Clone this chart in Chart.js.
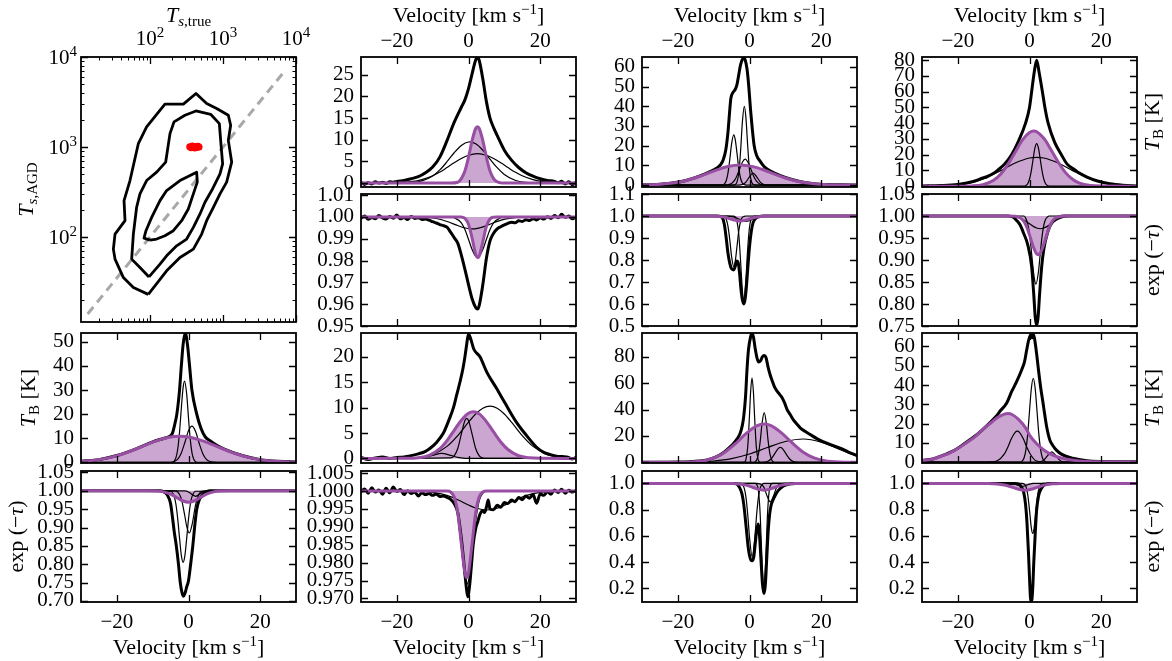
<!DOCTYPE html>
<html>
<head>
<meta charset="utf-8">
<script src="https://cdn.jsdelivr.net/npm/chart.js@4.4.1/dist/chart.umd.min.js"></script>
<style>
  html, body { margin: 0; padding: 0; background: #fff; width: 1172px; height: 661px; overflow: hidden; position: relative; }
  canvas { position: absolute; }
</style>
</head>
<body>
<script>
// ---- tick values ----
const velTicks = [-20, 0, 20];
const logTicks = [100, 1000, 10000];
const logExps = ['2', '3', '4'];
const c2r1Ticks = [0, 5, 10, 15, 20, 25];
const c2r2Ticks = [0.95, 0.96, 0.97, 0.98, 0.99, 1.00, 1.01];
const c3r1Ticks = [0, 10, 20, 30, 40, 50, 60];
const c3r2Ticks = [0.5, 0.6, 0.7, 0.8, 0.9, 1.0, 1.1];
const c4r1Ticks = [0, 10, 20, 30, 40, 50, 60, 70, 80];
const c4r2Ticks = [0.75, 0.80, 0.85, 0.90, 0.95, 1.00, 1.05];
const c1r3Ticks = [0, 10, 20, 30, 40, 50];
const c1r4Ticks = [0.70, 0.75, 0.80, 0.85, 0.90, 0.95, 1.00, 1.05];
const c2r3Ticks = [0, 5, 10, 15, 20];
const c2r4Ticks = [0.970, 0.975, 0.980, 0.985, 0.990, 0.995, 1.000, 1.005];
const c3r3Ticks = [0, 20, 40, 60, 80];
const c3r4Ticks = [0.2, 0.4, 0.6, 0.8, 1.0];
const c4r3Ticks = [0, 10, 20, 30, 40, 50, 60];
const c4r4Ticks = [0.2, 0.4, 0.6, 0.8, 1.0];

// ---- contour panel (Ts,true vs Ts,AGD) ----
const outerTrue = [94.8, 59.2, 43.2, 33.2, 31.5, 33.2, 45.5, 44.1, 53.2, 69.2, 89.9, 160.3, 286.4, 426.6, 597.0, 818.5, 1183, 1274, 1183, 1315, 1122, 909.9, 737.9, 597.0, 510.5, 392.6, 257.6, 169.0, 94.8];
const outerAgd  = [23.1, 27.5, 35.5, 56.9, 73.5, 107.9, 152.1, 254.1, 424.6, 1089, 1671, 2992, 2992, 3936, 3041, 2679, 2254, 1746, 1186, 680.8, 407.4, 302.0, 214.3, 152.1, 107.9, 73.5, 59.3, 42.2, 23.1];
const middleTrue = [96.9, 72.9, 56.1, 59.2, 65.6, 72.9, 89.9, 123.4, 164.1, 187.9, 213.3, 301.3, 426.6, 677.6, 891.3, 929.0, 988.5, 909.9, 699.8, 566.2, 484.2, 392.6, 317.7, 231.7, 169.0, 137.1, 96.9];
const middleAgd  = [36.1, 45.9, 56.9, 107.9, 214.3, 302, 424.6, 526.0, 680.8, 1408, 1901, 2254, 2518, 2312, 1820, 1186, 651.6, 504.7, 328.9, 243.8, 180.7, 128.2, 95.1, 80.0, 61.9, 50.0, 36.1];
const innerTrue = [100, 82.8, 88.1, 105.4, 137.1, 169.0, 257.6, 435.5, 444.6, 392.6, 335.0, 271.6, 208.9, 160.3, 123.4, 100];
const innerAgd  = [92.7, 97.5, 117.8, 165.6, 254.1, 328.9, 424.6, 526.0, 407.4, 302.0, 205.1, 152.1, 117.8, 103.5, 95.1, 92.7];
const redTrue = [350, 365, 380, 395, 410, 425, 440, 455, 470];
const redAgd  = [1010, 985, 1030, 1000, 975, 1015, 990, 1020, 1000];
const diagTrue = [14, 7100];
const diagAgd  = [14, 7100];

// ---- column 1 ----
const c1r3Thick = [[-30,0.4],[-25,1.1],[-20,2.8],[-15,5.4],[-10,8.5],[-7,9.9],[-5.5,10.6],[-4.5,12],[-3.8,16],[-3.25,20],[-2.5,30],[-2,40],[-1.5,49],[-0.9,53.7],[-0.3,49],[0.3,40],[0.95,30],[2.3,20],[3.5,14],[4.7,10.5],[6,9],[8,7],[10,5.5],[15,2.8],[20,1.1],[25,0.4],[30,0.15]];
const c1r3Thin1 = [[-30,0],[-4.5,0],[-4,0.5],[-3.5,1.9],[-3,5.5],[-2.5,12.6],[-2,22.5],[-1.5,31.1],[-1.1,33.7],[-0.5,28.2],[0,18.4],[0.5,9.4],[1,3.7],[1.5,1.15],[2,0.28],[2.5,0],[30,0]];
const c1r3Thin2 = [[-30,0],[-5,0],[-4,0.34],[-3,1.35],[-2,3.9],[-1,8.3],[0,13.05],[0.95,15],[2,12.7],[3,7.8],[4,3.57],[5,1.2],[6,0.29],[7,0.05],[8,0],[30,0]];
const c1r3Purple = [[-30,0.35],[-26,0.89],[-22,1.93],[-18,3.63],[-14,5.93],[-10,8.37],[-6,10.2],[-2.5,10.8],[1,10.2],[5,8.37],[9,5.93],[13,3.63],[17,1.93],[21,0.89],[25,0.35],[30,0.09]];

const c1r4Thick = [[-30,1],[-8,1],[-7,0.998],[-6,0.99],[-5,0.965],[-4.5,0.93],[-4,0.89],[-3.4,0.85],[-2.8,0.8],[-2.3,0.75],[-1.8,0.722],[-1.4,0.713],[-1,0.72],[-0.5,0.738],[0,0.755],[0.6,0.8],[1.2,0.85],[1.8,0.91],[2.3,0.95],[3,0.975],[4,0.99],[5.1,0.998],[6,1],[30,1]];
const c1r4Thin1 = [[-30,1],[-5,0.9988],[-4,0.985],[-3.5,0.9627],[-3,0.923],[-2.5,0.871],[-2,0.824],[-1.5,0.805],[-1,0.824],[-0.5,0.871],[0,0.923],[0.5,0.9627],[1,0.985],[2,0.9988],[30,1]];
const c1r4Thin2 = [[-30,1],[-4,1],[-3,0.9968],[-2,0.9786],[-1,0.93],[-0.5,0.903],[0.2,0.885],[1,0.908],[2,0.9626],[3,0.9924],[4,0.9992],[30,1]];
const c1r4Thin3 = [[-30,1],[-1,1],[0,0.997],[1,0.99],[2,0.985],[3,0.99],[4,0.997],[5,1],[30,1]];
const c1r4Purple = [[-30,1],[-12,1],[-9,0.9994],[-7,0.9972],[-5,0.9909],[-3,0.98],[-1.5,0.9722],[0,0.969],[1.5,0.9722],[3,0.98],[5,0.9909],[7,0.9972],[9,0.9994],[12,1],[30,1]];

// ---- column 2 ----
const c2r1Thick = [[-30,0.2],[-29,-0.3],[-28,0.1],[-27,-0.2],[-26,0.3],[-25,0],[-24,0.2],[-23,-0.1],[-22,0.3],[-21,0.2],[-20,0.4],[-18,0.6],[-16,1],[-14,1.5],[-12,2.4],[-10,3.7],[-8,6],[-6,9.8],[-4,14],[-2,17.5],[-1,19.2],[0,21.8],[1,25.2],[2,28.4],[2.5,29],[3,28.3],[4,24],[5,18.8],[6,15],[7,12.8],[8,11],[10,7.6],[12,5.3],[14,3.6],[16,2.4],[18,1.6],[20,1],[22,0.6],[24,0.4],[25,0.1],[26,0.4],[27,-0.2],[28,0.3],[29,-0.4],[30,0.2]];
const c2r1Thin1 = [[-30,0],[-16,0.12],[-13,0.51],[-10,1.65],[-8,3.04],[-6,4.93],[-4,7],[-2,8.7],[0,9.49],[0.3,9.5],[2,9.06],[4,7.58],[6,5.54],[8,3.56],[10,2],[13,0.66],[16,0.16],[20,0.02],[30,0]];
const c2r1Thin2 = [[-30,0.01],[-24,0.013],[-20,0.08],[-16,0.32],[-13,0.8],[-10,1.7],[-8,2.55],[-6,3.6],[-4,4.67],[-2,5.68],[0,6.43],[2.5,6.8],[5,6.43],[7,5.68],[9,4.67],[11,3.6],[13,2.55],[15,1.7],[18,0.8],[21,0.32],[25,0.08],[30,0.01]];
const c2r1Purple = [[-30,0],[-5,0],[-3,0.2],[-2,1.04],[-1,2.8],[0,5.95],[1,9.8],[2,12.6],[2.5,13],[3,12.6],[4,9.8],[5,5.95],[6,2.8],[7,1.04],[8,0.3],[9,0.05],[10,0],[30,0]];

const c2r2Thick = [[-30,0.9993],[-29,1.0004],[-28,0.9989],[-27,0.9997],[-26,0.9992],[-25,1.0007],[-24,0.9995],[-23,0.9990],[-22,1.0002],[-21,0.9994],[-20,1.0009],[-19,0.9991],[-18,0.9997],[-17,0.9988],[-16,1.0002],[-15,0.9993],[-14,0.9996],[-13,0.9988],[-12,0.9990],[-11,0.9985],[-10,0.9978],[-9,0.9972],[-8,0.9965],[-7,0.9960],[-6,0.9953],[-5,0.9930],[-4,0.9905],[-3,0.9880],[-2,0.9825],[-1,0.9760],[0,0.9690],[1,0.9625],[2,0.9585],[2.5,0.9578],[3,0.9595],[4,0.9690],[5,0.9810],[6,0.9890],[7,0.9925],[8,0.9945],[9,0.9955],[10,0.9963],[11,0.9970],[12,0.9976],[13,0.9973],[14,0.9982],[15,0.9979],[16,0.9987],[17,0.9983],[18,0.9992],[19,0.9986],[20,0.9996],[21,0.9990],[22,1.0001],[23,0.9993],[24,1.0006],[25,0.9996],[26,1.0012],[27,0.9998],[28,1.0004],[29,0.9991],[30,0.9999]];
const c2r2Thin1 = [[-30,1],[-13.5,0.99992],[-10.5,0.99961],[-7.5,0.9987],[-5.5,0.99764],[-3.5,0.99633],[-1.5,0.99515],[0.5,0.99453],[1,0.9945],[2.5,0.99474],[4.5,0.99569],[6.5,0.997],[8.5,0.99821],[10.5,0.9991],[13.5,0.99976],[16.5,0.99996],[30,1]];
const c2r2Thin2 = [[-30,1],[-5,1],[-4,0.99966],[-2,0.99727],[-1,0.99419],[0,0.98975],[1,0.98505],[2,0.98193],[2.5,0.9815],[3,0.98193],[4,0.98505],[5,0.98975],[6,0.99419],[7,0.99727],[9,0.99966],[10,1],[30,1]];
const c2r2Purple = [[-30,1],[-3,1],[-2,0.99992],[-1,0.99932],[0,0.99667],[1,0.99027],[2,0.98295],[2.6,0.9813],[3,0.98205],[4,0.98865],[5,0.9957],[6,0.99903],[7,0.99987],[8,1],[30,1]];

const c2r3Thick = [[-30,0.2],[-28,-0.2],[-26,0.1],[-24,0.3],[-22,0],[-20,0.2],[-18,0.3],[-16.3,0.5],[-14,0.9],[-12,1.4],[-10.7,2],[-9,3.1],[-7,5],[-5.5,7.5],[-4.2,10],[-3.3,12.5],[-2.4,15],[-1.6,17.5],[-1,20],[-0.5,22.5],[0,24.5],[0.5,23.8],[1.5,21.5],[3.2,20],[5.1,17],[7.9,13.7],[10.6,10.4],[13.4,7.1],[16.2,4.5],[19,2.2],[21,1.2],[22.7,0.8],[25,0.4],[27.4,0.3],[29,-0.1],[30,0.2]];
const c2r3Thin1 = [[-30,0],[-5,0.09],[-4,0.52],[-3,1.96],[-2,4.8],[-1,7.47],[-0.5,7.9],[0,7.47],[1,4.8],[2,1.96],[3,0.52],[4,0.09],[5,0],[30,0]];
const c2r3Thin2 = [[-30,0],[-18,0.02],[-14,0.17],[-10,0.76],[-6,2.37],[-3,4.5],[0,7.14],[2,8.75],[4,9.89],[6,10.3],[8,9.89],[10,8.75],[12,7.14],[15,4.5],[18,2.37],[22,0.76],[26,0.17],[30,0.03]];
const c2r3Thin3 = [[-30,0],[-16,0],[-14,0.03],[-12,0.2],[-10,0.6],[-7.5,1],[-5,0.6],[-3,0.2],[-1,0.03],[1,0],[30,0]];
const c2r3Purple = [[-30,0],[-18,0.02],[-14,0.14],[-11,0.61],[-8,1.94],[-6,3.52],[-4,5.53],[-2,7.53],[0,8.9],[1.35,9.2],[3,8.77],[5,7.26],[7,5.21],[9,3.25],[11,1.76],[14,0.53],[17,0.12],[20,0.02],[30,0]];

const c2r4Thick = [[-30,0.9998],[-29,1.0006],[-28,0.9994],[-27,1.0009],[-26,0.9997],[-25,1.0003],[-24,0.9991],[-23,1.0008],[-22,0.9995],[-21,1.0011],[-20,0.9999],[-19,1.0004],[-18,0.9990],[-17,1.0001],[-16,0.9993],[-15,0.9997],[-14,0.9986],[-13,0.9995],[-12,0.9990],[-11,0.9993],[-10,0.9988],[-9,0.9992],[-8,0.9985],[-7,0.9986],[-6,0.9982],[-5,0.9977],[-4,0.9965],[-3,0.9940],[-2.4,0.990],[-1.8,0.985],[-1.2,0.979],[-0.6,0.973],[-0.2,0.9705],[0.3,0.9735],[0.8,0.979],[1.3,0.985],[2,0.9895],[2.6,0.9915],[3.2,0.9935],[4,0.9945],[4.5,0.9940],[5,0.9955],[5.5,0.9975],[6,0.9950],[7,0.9948],[8,0.9960],[9,0.9955],[10,0.9968],[11,0.9965],[12,0.9975],[13,0.9970],[14,0.9982],[15,0.9976],[16,0.9986],[17,0.9980],[18,0.9990],[19,0.9966],[20,0.9992],[21,0.9988],[22,0.9998],[23,0.9991],[24,1.0003],[25,0.9996],[26,1.0005],[27,0.9994],[28,1.0002],[29,0.9997],[30,1.0001]];
const c2r4Thin1 = [[-30,1],[-14,0.99993],[-10,0.99964],[-6,0.99877],[-3,0.99756],[0,0.9961],[2,0.99527],[5.1,0.9947],[8,0.9952],[11,0.99649],[14,0.99792],[17,0.99901],[20,0.99962],[24,0.99992],[28,1],[30,1]];
const c2r4Thin2 = [[-30,1],[-6,1],[-5,0.9996],[-4,0.9979],[-3,0.99306],[-2,0.98422],[-1,0.97577],[-0.4,0.974],[0,0.97481],[1,0.98227],[2,0.99155],[3,0.9973],[4,0.9994],[5,1],[30,1]];
const c2r4Purple = [[-30,1],[-6,1],[-5,0.99973],[-4,0.9984],[-3,0.99395],[-2,0.98531],[-1,0.97711],[-0.5,0.9758],[0,0.97711],[1,0.98531],[2,0.99395],[3,0.9984],[4,0.99973],[5,1],[30,1]];

// ---- column 3 ----
const c3r1Thick = [[-30,0.08],[-26,0.3],[-22,0.9],[-18,2.2],[-14,4.5],[-11,6.8],[-9,8.8],[-8,10.5],[-7.3,13],[-6.6,18],[-6,27],[-5.6,36],[-5.2,44],[-4.6,47],[-4,48.5],[-3.5,51],[-3,56],[-2.5,61],[-2,63.8],[-1.6,64.5],[-1.2,63.5],[-0.7,59],[-0.2,50],[0.3,38],[0.7,30],[1.3,20],[2,15],[3,12],[4,9.5],[5,8],[7,6],[10,3.8],[14,1.8],[18,0.7],[22,0.25],[26,0.08],[30,0.02]];
const c3r1Thin1 = [[-30,0],[-4.5,0],[-4,0.25],[-3.5,1.5],[-3,6.1],[-2.5,16.9],[-2,31.6],[-1.45,40],[-1,34.2],[-0.5,19.8],[0,7.7],[0.5,2.05],[1,0.37],[1.5,0.04],[2,0],[30,0]];
const c3r1Thin2 = [[-30,0],[-7.5,0],[-7,0.6],[-6.5,2.2],[-6,6.2],[-5.5,13],[-5,20.9],[-4.4,25.5],[-4,23.3],[-3.5,16.3],[-3,8.6],[-2.5,3.45],[-2,1.05],[-1.5,0.24],[-1,0],[30,0]];
const c3r1Thin3 = [[-30,0],[-7,0],[-6,0.15],[-5,0.79],[-4,2.85],[-3,7],[-2,11.6],[-1.2,13.2],[0,9.97],[1,5.1],[2,1.8],[3,0.42],[4,0.07],[5,0],[30,0]];
const c3r1Thin4 = [[-30,0],[-3,0],[-2,0.26],[-1,1.5],[0,4.2],[1,6],[2,4.2],[3,1.5],[4,0.26],[5,0.02],[6,0],[30,0]];
const c3r1Purple = [[-30,0.07],[-26,0.27],[-22,0.85],[-18,2.13],[-14,4.32],[-10,7.1],[-6,9.45],[-2.6,10.2],[1,9.36],[4,7.65],[7,5.55],[10,3.57],[14,1.65],[18,0.62],[22,0.19],[26,0.05],[30,0.01]];

const c3r2Thick = [[-30,1],[-9,1],[-8,0.997],[-7.5,0.99],[-7,0.96],[-6.5,0.9],[-6,0.83],[-5.5,0.785],[-5,0.76],[-4.4,0.755],[-4,0.77],[-3.6,0.795],[-3.2,0.79],[-2.8,0.745],[-2.4,0.67],[-2,0.62],[-1.6,0.6],[-1.2,0.625],[-0.8,0.69],[-0.4,0.78],[0,0.86],[0.5,0.93],[1,0.97],[1.5,0.985],[2.5,0.996],[4,1],[30,1]];
const c3r2Thin1 = [[-30,1],[-4.5,1],[-4,0.9958],[-3.5,0.977],[-3,0.918],[-2.5,0.798],[-2,0.665],[-1.6,0.62],[-1,0.713],[-0.5,0.852],[0,0.949],[0.5,0.988],[1,0.998],[1.5,1],[30,1]];
const c3r2Thin2 = [[-30,1],[-7.5,1],[-7,0.9965],[-6.5,0.985],[-6,0.953],[-5.5,0.891],[-5,0.816],[-4.4,0.77],[-4,0.792],[-3.5,0.86],[-3,0.931],[-2.5,0.975],[-2,0.9935],[-1.5,0.9985],[-1,1],[30,1]];
const c3r2Thin3 = [[-30,1],[-7,1],[-6,0.9995],[-4,0.994],[-2,0.9786],[-1,0.975],[0,0.9786],[2,0.994],[4,0.9995],[5,1],[30,1]];
const c3r2Purple = [[-30,1],[-11,1],[-9,0.9991],[-7,0.9951],[-5,0.9855],[-3,0.9773],[-2.6,0.977],[-1,0.9813],[1,0.9918],[3,0.9981],[5,0.9998],[7,1],[30,1]];

const c3r3Thick = [[-30,0],[-20,0.2],[-16.5,0.5],[-14,1],[-11.9,1.8],[-9.5,3.9],[-7.2,7.5],[-5.5,11.5],[-4.4,14.5],[-3.4,18],[-2.6,22],[-2,28],[-1.6,35],[-1.1,50],[-0.7,70],[-0.3,85],[0.3,95],[0.7,97.5],[1.1,95],[1.6,86],[2.1,79],[2.55,76],[3.1,77],[3.6,80],[4.1,81],[4.6,79.5],[5.2,72],[5.8,66],[6.3,62],[7,57],[7.7,54],[8.4,51.5],[9.1,49],[9.8,45],[10.5,40],[11.4,36],[12.3,32],[13.2,29],[14.2,26],[15.5,23.5],[17,21],[18.9,17.8],[20.7,15.5],[23,13],[25.3,10.8],[27.6,7.8],[30,5.2]];
const c3r3Thin1 = [[-30,0],[-2,0],[-1.5,0.2],[-1,2.1],[-0.5,11.6],[0,35.8],[0.3,52.9],[0.7,64],[1.1,52.9],[1.4,35.8],[1.9,11.6],[2.4,2.1],[2.9,0.2],[3.4,0],[30,0]];
const c3r3Thin2 = [[-30,0],[1,0],[1.5,0.35],[2,1.78],[2.5,6.4],[3,16.3],[3.5,29.4],[4.1,37.7],[4.7,29.4],[5.2,16.3],[5.7,6.4],[6.2,1.78],[6.7,0.35],[7.2,0],[30,0]];
const c3r3Thin3 = [[-30,0],[3,0],[4,0.1],[5,0.63],[6,2.52],[7,6.4],[8,10.4],[8.6,11.3],[9.2,10.4],[10.2,6.4],[11.2,2.52],[12.2,0.63],[13.2,0.1],[14,0],[30,0]];
const c3r3Thin4 = [[-30,0],[-22,0.05],[-15,0.3],[-10,1],[-5,2.8],[0,6.3],[5,11.2],[10,15.8],[15,17.7],[20,15.3],[25,10],[30,4.6]];
const c3r3Purple = [[-30,0],[-20,0.05],[-16,0.32],[-12,1.61],[-8,5.7],[-4,13.97],[-1,21.7],[2,27.6],[4.1,29],[6,27.85],[9,22.2],[12,14.5],[15,7.7],[18,3.37],[21,1.2],[25,0.22],[30,0.02]];

const c3r4Thick = [[-30,1],[-4,1],[-3.5,0.995],[-2.8,0.97],[-2.1,0.92],[-1.6,0.84],[-1.2,0.74],[-0.8,0.63],[-0.4,0.52],[0,0.45],[0.4,0.415],[0.8,0.41],[1.2,0.44],[1.6,0.54],[2,0.64],[2.4,0.69],[2.8,0.6],[3.2,0.42],[3.6,0.24],[4,0.16],[4.4,0.22],[4.8,0.42],[5.2,0.63],[5.6,0.76],[6,0.83],[6.5,0.87],[7.2,0.91],[8,0.945],[9.5,0.98],[11.4,0.997],[13,1],[30,1]];
const c3r4Thin1 = [[-30,1],[-2.5,1],[-2,0.9916],[-1.5,0.966],[-1,0.898],[-0.5,0.765],[0,0.59],[0.75,0.44],[1.5,0.59],[2,0.765],[2.5,0.898],[3,0.966],[3.5,0.9916],[4,1],[30,1]];
const c3r4Thin2 = [[-30,1],[1.5,1],[2,0.993],[2.5,0.943],[3,0.752],[3.5,0.397],[4,0.19],[4.5,0.397],[5,0.752],[5.5,0.943],[6,0.993],[6.5,1],[30,1]];
const c3r4Thin3 = [[-30,1],[2,1],[3,0.997],[4,0.972],[5,0.898],[5.8,0.86],[6.6,0.898],[7.6,0.972],[8.6,0.997],[9.5,1],[30,1]];
const c3r4Purple = [[-30,1],[-7,1],[-5,0.9994],[-3,0.9966],[-1,0.9873],[1,0.969],[2.5,0.955],[4,0.949],[5.5,0.955],[7,0.969],[9,0.9873],[11,0.9966],[13,0.9994],[15,1],[30,1]];

// ---- column 4 ----
const c4r1Thick = [[-30,0.15],[-25,0.4],[-20,1.1],[-16,2.8],[-13,5.2],[-11.9,6],[-10,8.2],[-8.7,10.5],[-7,14],[-5,20],[-3,29],[-1.1,40],[0,50],[0.6,60],[1.3,72],[2,80],[2.7,72],[3.6,60],[4.3,50],[5.2,40],[7,28],[8.9,20],[10.5,14],[12.6,10.5],[14,8.2],[15.9,6],[19,3.3],[22.4,1.5],[26,0.6],[30,0.2]];
const c4r1Thin1 = [[-30,0],[-1.5,0],[-1,0.45],[-0.5,1.57],[0,4.4],[0.5,9.7],[1,17.1],[1.5,24.1],[2,27],[2.5,24.1],[3,17.1],[3.5,9.7],[4,4.4],[4.5,1.57],[5,0.45],[5.5,0.1],[6,0],[30,0]];
const c4r1Thin2 = [[-30,0.03],[-25,0.2],[-20,0.92],[-16,2.48],[-12,5.46],[-8,9.87],[-4,14.7],[0,17.9],[2,18.3],[4,17.9],[8,14.7],[12,9.87],[16,5.46],[20,2.48],[24,0.92],[29,0.2],[30,0.14]];
const c4r1Purple = [[-30,0],[-20,0.01],[-16,0.18],[-13,0.97],[-10,3.76],[-8,7.77],[-6,13.9],[-4,21.6],[-2,29.2],[0,34.1],[1.2,35],[2,34.6],[4,30.4],[6,23.2],[8,15.4],[10,8.8],[12,4.4],[14,1.9],[17,0.41],[20,0.07],[30,0]];

const c4r2Thick = [[-30,1],[-6,1],[-4.5,0.997],[-3.6,0.99],[-2.5,0.978],[-1.7,0.962],[-0.5,0.935],[0.6,0.885],[1.2,0.82],[1.6,0.77],[2,0.752],[2.4,0.77],[2.8,0.82],[3.4,0.885],[4,0.925],[4.8,0.955],[5.6,0.975],[6.6,0.988],[8,0.997],[10,1],[30,1]];
const c4r2Thin1 = [[-30,1],[-1.5,1],[-1,0.994],[-0.5,0.9827],[0,0.9594],[0.5,0.9228],[1,0.881],[1.5,0.8506],[1.8,0.845],[2.5,0.8734],[3,0.9145],[3.5,0.953],[4,0.979],[4.5,0.9924],[5,0.9978],[5.5,1],[30,1]];
const c4r2Thin2 = [[-30,1],[-8,1],[-6,0.9997],[-4,0.9981],[-2,0.9928],[0,0.9824],[2,0.9726],[3,0.971],[4,0.9726],[6,0.9824],[8,0.9928],[10,0.9981],[12,0.9997],[14,1],[30,1]];
const c4r2Purple = [[-30,1],[-6,1],[-4,0.9995],[-2,0.9922],[-1,0.9792],[0,0.9571],[1,0.9311],[2,0.9138],[2.4,0.912],[3,0.9159],[4,0.9361],[5,0.9622],[6,0.9826],[7,0.9938],[9,0.9996],[11,1],[30,1]];

const c4r3Thick = [[-30,0.9],[-27,1.6],[-24,3.6],[-22,5.1],[-20,7.2],[-18,9.8],[-15,13.8],[-13,17],[-11,20.5],[-9,24.5],[-8.2,26.5],[-6.4,30.5],[-5,36.5],[-3.6,41.7],[-2.2,47.8],[-1.4,52],[-0.8,58],[-0.2,63.5],[0.3,66],[0.7,64.5],[1.1,66.3],[1.5,63],[2,56],[2.4,49.5],[3.1,39],[3.8,30.4],[4.3,24],[4.8,18.2],[5.7,11.3],[6.5,8.6],[7.5,6.2],[9,4],[12,2],[16,0.7],[20,0.3],[30,0.1]];
const c4r3Thin1 = [[-30,0],[-2.5,0],[-2,0.63],[-1.5,2.25],[-1,6.4],[-0.5,14.6],[0,26.4],[0.5,37.9],[1.05,43.5],[1.6,37.9],[2.1,26.4],[2.6,14.6],[3.1,6.4],[3.6,2.25],[4.1,0.63],[4.6,0.14],[5,0],[30,0]];
const c4r3Thin2 = [[-30,0],[-12,0],[-11,0.04],[-9,0.63],[-7,4.2],[-6,7.96],[-5,12.3],[-4,15.4],[-3.4,16],[-2.8,15.4],[-1.8,12.3],[-0.8,7.96],[0.2,4.2],[1.8,0.63],[3.8,0.04],[5,0],[30,0]];
const c4r3Thin3 = [[-30,0],[2,0],[3,0.15],[4,0.99],[5,3.2],[6.2,5.3],[7.4,3.2],[8.4,0.99],[9.4,0.15],[10.5,0],[30,0]];
const c4r3Purple = [[-30,0.8],[-27,1.5],[-24,3.5],[-22.6,4.4],[-20,7],[-17.9,9.6],[-15,13.5],[-13.3,16.5],[-11,20],[-9,23],[-7,24.9],[-6,25.2],[-5,24.8],[-3,22],[-1,17.5],[0,14],[2,9.5],[4.6,5.5],[7,3.2],[10,1.6],[14,0.6],[20,0.15],[30,0]];

const c4r4Thick = [[-30,1],[-4,1],[-3,0.995],[-2.2,0.97],[-1.6,0.93],[-1.1,0.84],[-0.7,0.7],[-0.3,0.48],[0,0.28],[0.3,0.12],[0.6,0.1],[0.9,0.2],[1.2,0.4],[1.6,0.62],[2,0.8],[2.5,0.9],[3,0.945],[3.8,0.98],[4.8,0.997],[6,1],[30,1]];
const c4r4Thin1 = [[-30,1],[-2,1],[-1.5,0.9958],[-1,0.977],[-0.5,0.917],[0,0.797],[0.5,0.663],[0.9,0.618],[1.3,0.663],[1.8,0.797],[2.3,0.917],[2.8,0.977],[3.3,0.9958],[3.8,1],[30,1]];
const c4r4Thin2 = [[-30,1],[-6,1],[-4,0.995],[-3,0.985],[-2,0.978],[-1,0.985],[0,0.995],[1,1],[30,1]];
const c4r4Purple = [[-30,1],[-14,1],[-12,0.9997],[-9,0.9966],[-7,0.9885],[-5,0.9728],[-3,0.9553],[-1.3,0.949],[0.5,0.956],[2.5,0.9737],[4.5,0.9891],[6.5,0.9969],[9,0.9996],[11,1],[30,1]];

// ---- layout ----
const FONT = 'Liberation Serif';
const L = 80, R = 45, T = 70, B = 70, PW = 215;
const COLX = [81, 361, 642, 922];
const ROWY = [[57, 187], [194, 326], [333, 463], [471, 602]];
const PURPLE = '#984ea3';
const PFILL = 'rgba(152, 78, 163, 0.5)';
const TICKSZ = 21;

Chart.defaults.font.family = FONT;
Chart.defaults.color = '#000';

const SZ = 22, SUB = 15;
const VEL = [['Velocity [km s', SZ, 0, 0], ['\u22121', SUB, 0, -8], [']', SZ, 0, 0]];
const TB = [['T', SZ, 1, 0], ['B', SUB, 0, 4], [' [K]', SZ, 0, 0]];
const TAU = [['exp (', SZ, 0, 0], ['\u2212', SZ, 0, 0], ['\u03c4', SZ, 1, 0], [')', SZ, 0, 0]];
const TAGD = [['T', SZ, 1, 0], ['s', SUB, 1, 4], [',AGD', SUB, 0, 4]];
const TTRUE = [['T', SZ, 1, 0], ['s', SUB, 1, 4], [',true', SUB, 0, 4]];

function xy(arr) {
  return arr.map(p => ({ x: p[0], y: p[1] }));
}

function drawRich(ctx, parts, x, y, vertical) {
  ctx.save();
  ctx.translate(x, y);
  if (vertical) ctx.rotate(-Math.PI / 2);
  const fonts = parts.map(p => (p[2] ? 'italic ' : '') + p[1] + 'px "' + FONT + '"');
  let w = 0;
  parts.forEach((p, i) => { ctx.font = fonts[i]; w += ctx.measureText(p[0]).width; });
  let cx = -w / 2;
  ctx.fillStyle = '#000';
  ctx.textAlign = 'left';
  ctx.textBaseline = 'alphabetic';
  parts.forEach((p, i) => {
    ctx.font = fonts[i];
    ctx.fillText(p[0], cx, p[3]);
    cx += ctx.measureText(p[0]).width;
  });
  ctx.restore();
}

function drawPow(ctx, exp, x, y, align) {
  ctx.save();
  ctx.fillStyle = '#000';
  ctx.textBaseline = 'alphabetic';
  ctx.textAlign = 'left';
  ctx.font = TICKSZ + 'px "' + FONT + '"';
  const w1 = ctx.measureText('10').width;
  ctx.font = '15px "' + FONT + '"';
  const w2 = ctx.measureText(exp).width;
  const x0 = align === 'center' ? x - (w1 + w2) / 2 : x - (w1 + w2);
  ctx.font = TICKSZ + 'px "' + FONT + '"';
  ctx.fillText('10', x0, y);
  ctx.font = '15px "' + FONT + '"';
  ctx.fillText(exp, x0 + w1, y - 8);
  ctx.restore();
}

// frame, inward ticks on all four sides, axis titles
const decoPlugin = {
  id: 'deco',
  afterDraw(chart, args, o) {
    const ctx = chart.ctx, a = chart.chartArea;
    const sx = chart.scales.x, sy = chart.scales.y;
    const marks = (len, xs, ys) => {
      xs.forEach(v => {
        const px = Math.round(sx.getPixelForValue(v)) + 0.5;
        ctx.moveTo(px, a.top); ctx.lineTo(px, a.top + len);
        ctx.moveTo(px, a.bottom); ctx.lineTo(px, a.bottom - len);
      });
      ys.forEach(v => {
        const py = Math.round(sy.getPixelForValue(v)) + 0.5;
        ctx.moveTo(a.left, py); ctx.lineTo(a.left + len, py);
        ctx.moveTo(a.right, py); ctx.lineTo(a.right - len, py);
      });
    };
    ctx.save();
    ctx.strokeStyle = '#000';
    ctx.lineWidth = 1.3;
    ctx.beginPath();
    marks(7, sx.ticks.map(t => t.value), sy.ticks.map(t => t.value));
    ctx.stroke();
    if (o.log) {
      const minor = [];
      [10, 100, 1000].forEach(d => { for (let k = 2; k <= 9; k++) minor.push(k * d); });
      ctx.lineWidth = 1;
      ctx.beginPath();
      marks(3.5, minor.filter(v => v > sx.min && v < sx.max), minor.filter(v => v > sy.min && v < sy.max));
      ctx.stroke();
      logTicks.forEach((v, i) => {
        drawPow(ctx, logExps[i], sx.getPixelForValue(v), a.top - 12, 'center');
        drawPow(ctx, logExps[i], a.left - 4, sy.getPixelForValue(v) + 7, 'right');
      });
    }
    ctx.lineWidth = 1.8;
    ctx.strokeRect(a.left, a.top, a.right - a.left, a.bottom - a.top);
    ctx.restore();
    const midX = (a.left + a.right) / 2, midY = (a.top + a.bottom) / 2;
    (o.titles || []).forEach(t => {
      if (t.side === 'top') drawRich(ctx, t.parts, midX, a.top - 35, false);
      if (t.side === 'bottom') drawRich(ctx, t.parts, midX, a.bottom + 52, false);
      if (t.side === 'left') drawRich(ctx, t.parts, a.left - (t.off || 46), midY, true);
      if (t.side === 'right') drawRich(ctx, t.parts, a.right + 22, midY, true);
    });
  }
};

function mkCanvas(x, y, w, h) {
  const c = document.createElement('canvas');
  c.width = w; c.height = h;
  c.style.left = x + 'px'; c.style.top = y + 'px';
  c.style.width = w + 'px'; c.style.height = h + 'px';
  document.body.appendChild(c);
  return c.getContext('2d');
}

const fmtVel = v => (v < 0 ? '\u2212' + Math.abs(v) : String(v));

function spectrum(p) {
  const [top, bot] = ROWY[p.row];
  const h = bot - top;
  const ctx = mkCanvas(COLX[p.col] - L, top - T, L + PW + R, T + h + B);
  const base = p.kind === 'tau' ? 1 : 0;
  const line = { fill: false, cubicInterpolationMode: 'monotone', borderJoinStyle: 'round', borderCapStyle: 'round', xAxisID: 'x', yAxisID: 'y' };
  const datasets = [];
  datasets.push(Object.assign({}, line, { data: xy(p.purple), borderColor: PURPLE, borderWidth: 3, backgroundColor: PFILL, fill: { value: base } }));
  p.thin.forEach(t => datasets.push(Object.assign({}, line, { data: xy(t), borderColor: '#000', borderWidth: 1.2 })));
  datasets.push(Object.assign({}, line, { data: xy(p.thick), borderColor: '#000', borderWidth: 3 }));

  const titles = [];
  const yt = p.kind === 'tb' ? TB : TAU;
  if (p.row === 0) titles.push({ parts: VEL, side: 'top' });
  if (p.row === 3) titles.push({ parts: VEL, side: 'bottom' });
  if (p.col === 0) titles.push({ parts: yt, side: 'left', off: p.kind === 'tb' ? 46 : 58 });
  if (p.col === 3) titles.push({ parts: yt, side: 'right' });

  const xScale = (pos, show, size, pad) => ({
    type: 'linear', position: pos, min: -30, max: 30,
    grid: { display: false, drawTicks: false }, border: { display: false },
    afterBuildTicks: s => { s.ticks = velTicks.map(v => ({ value: v })); },
    afterFit: s => { s.height = size; },
    ticks: { display: show, padding: pad, maxRotation: 0, font: { size: TICKSZ }, color: '#000', callback: fmtVel }
  });

  new Chart(ctx, {
    type: 'line',
    data: { datasets },
    options: {
      responsive: false, animation: false, devicePixelRatio: 1,
      layout: { padding: { left: 0, top: 0, bottom: 0, right: R } },
      elements: { point: { radius: 0 } },
      plugins: { legend: { display: false }, tooltip: { enabled: false }, filler: { drawTime: 'beforeDatasetsDraw' }, deco: { titles } },
      scales: {
        x: xScale('bottom', p.row === 3, B, 8),
        xt: xScale('top', p.row === 0, T, 3),
        y: {
          type: 'linear', position: 'left', min: p.y[0], max: p.y[1],
          grid: { display: false, drawTicks: false }, border: { display: false },
          afterBuildTicks: s => { s.ticks = p.ticks.map(v => ({ value: v })); },
          afterFit: s => { s.width = L; },
          ticks: { autoSkip: false, padding: 7, font: { size: TICKSZ }, color: '#000', callback: v => v.toFixed(p.dec) }
        }
      }
    },
    plugins: [decoPlugin]
  });
}

function contourPanel() {
  const top = 57, bot = 322, h = bot - top;
  const ctx = mkCanvas(COLX[0] - L, top - T, L + PW + R, T + h + B);
  const poly = (xs, ys) => xy(xs.map((v, i) => [v, ys[i]]));
  const cline = { borderColor: '#000', borderWidth: 2.8, tension: 0, fill: false, borderJoinStyle: 'round' };
  new Chart(ctx, {
    type: 'line',
    data: {
      datasets: [
        { data: poly(redTrue, redAgd), showLine: false, pointRadius: 3.5, pointBackgroundColor: '#ff0000', pointBorderWidth: 0 },
        Object.assign({ data: poly(innerTrue, innerAgd) }, cline),
        Object.assign({ data: poly(middleTrue, middleAgd) }, cline),
        Object.assign({ data: poly(outerTrue, outerAgd) }, cline),
        { data: poly(diagTrue, diagAgd), borderColor: '#a8a8a8', borderWidth: 3, borderDash: [9, 6], tension: 0, fill: false }
      ]
    },
    options: {
      responsive: false, animation: false, devicePixelRatio: 1,
      layout: { padding: { left: 0, top: 0, bottom: B, right: R } },
      elements: { point: { radius: 0 } },
      plugins: { legend: { display: false }, tooltip: { enabled: false }, deco: { log: true, titles: [{ parts: TTRUE, side: 'top' }, { parts: TAGD, side: 'left', off: 48 }] } },
      scales: {
        x: {
          type: 'logarithmic', position: 'top', min: 11.35, max: 10000,
          grid: { display: false, drawTicks: false }, border: { display: false },
          afterBuildTicks: s => { s.ticks = logTicks.map(v => ({ value: v })); },
          afterFit: s => { s.height = T; },
          ticks: { display: false }
        },
        y: {
          type: 'logarithmic', position: 'left', min: 11.4, max: 10000,
          grid: { display: false, drawTicks: false }, border: { display: false },
          afterBuildTicks: s => { s.ticks = logTicks.map(v => ({ value: v })); },
          afterFit: s => { s.width = L; },
          ticks: { display: false }
        }
      }
    },
    plugins: [decoPlugin]
  });
}

const panels = [
  { col: 1, row: 0, kind: 'tb',  y: [-0.9, 29.1],    ticks: c2r1Ticks, dec: 0, thick: c2r1Thick, thin: [c2r1Thin1, c2r1Thin2], purple: c2r1Purple },
  { col: 2, row: 0, kind: 'tb',  y: [-1, 65],        ticks: c3r1Ticks, dec: 0, thick: c3r1Thick, thin: [c3r1Thin1, c3r1Thin2, c3r1Thin3, c3r1Thin4], purple: c3r1Purple },
  { col: 3, row: 0, kind: 'tb',  y: [-0.5, 82],      ticks: c4r1Ticks, dec: 0, thick: c4r1Thick, thin: [c4r1Thin1, c4r1Thin2], purple: c4r1Purple },
  { col: 1, row: 1, kind: 'tau', y: [0.95, 1.0105],  ticks: c2r2Ticks, dec: 2, thick: c2r2Thick, thin: [c2r2Thin1, c2r2Thin2], purple: c2r2Purple },
  { col: 2, row: 1, kind: 'tau', y: [0.5, 1.1],      ticks: c3r2Ticks, dec: 1, thick: c3r2Thick, thin: [c3r2Thin1, c3r2Thin2, c3r2Thin3], purple: c3r2Purple },
  { col: 3, row: 1, kind: 'tau', y: [0.75, 1.05],    ticks: c4r2Ticks, dec: 2, thick: c4r2Thick, thin: [c4r2Thin1, c4r2Thin2], purple: c4r2Purple },
  { col: 0, row: 2, kind: 'tb',  y: [-0.3, 53.7],    ticks: c1r3Ticks, dec: 0, thick: c1r3Thick, thin: [c1r3Thin1, c1r3Thin2], purple: c1r3Purple },
  { col: 1, row: 2, kind: 'tb',  y: [-0.9, 24.7],    ticks: c2r3Ticks, dec: 0, thick: c2r3Thick, thin: [c2r3Thin1, c2r3Thin2, c2r3Thin3], purple: c2r3Purple },
  { col: 2, row: 2, kind: 'tb',  y: [-0.5, 98],      ticks: c3r3Ticks, dec: 0, thick: c3r3Thick, thin: [c3r3Thin1, c3r3Thin2, c3r3Thin3, c3r3Thin4], purple: c3r3Purple },
  { col: 3, row: 2, kind: 'tb',  y: [-0.5, 67],      ticks: c4r3Ticks, dec: 0, thick: c4r3Thick, thin: [c4r3Thin1, c4r3Thin2, c4r3Thin3], purple: c4r3Purple },
  { col: 0, row: 3, kind: 'tau', y: [0.697, 1.054],  ticks: c1r4Ticks, dec: 2, thick: c1r4Thick, thin: [c1r4Thin1, c1r4Thin2, c1r4Thin3], purple: c1r4Purple },
  { col: 1, row: 3, kind: 'tau', y: [0.969, 1.0056], ticks: c2r4Ticks, dec: 3, thick: c2r4Thick, thin: [c2r4Thin1, c2r4Thin2], purple: c2r4Purple },
  { col: 2, row: 3, kind: 'tau', y: [0.095, 1.095],  ticks: c3r4Ticks, dec: 1, thick: c3r4Thick, thin: [c3r4Thin1, c3r4Thin2, c3r4Thin3], purple: c3r4Purple },
  { col: 3, row: 3, kind: 'tau', y: [0.095, 1.095],  ticks: c4r4Ticks, dec: 1, thick: c4r4Thick, thin: [c4r4Thin1, c4r4Thin2], purple: c4r4Purple }
];

contourPanel();
panels.forEach(spectrum);
</script>
</body>
</html>
